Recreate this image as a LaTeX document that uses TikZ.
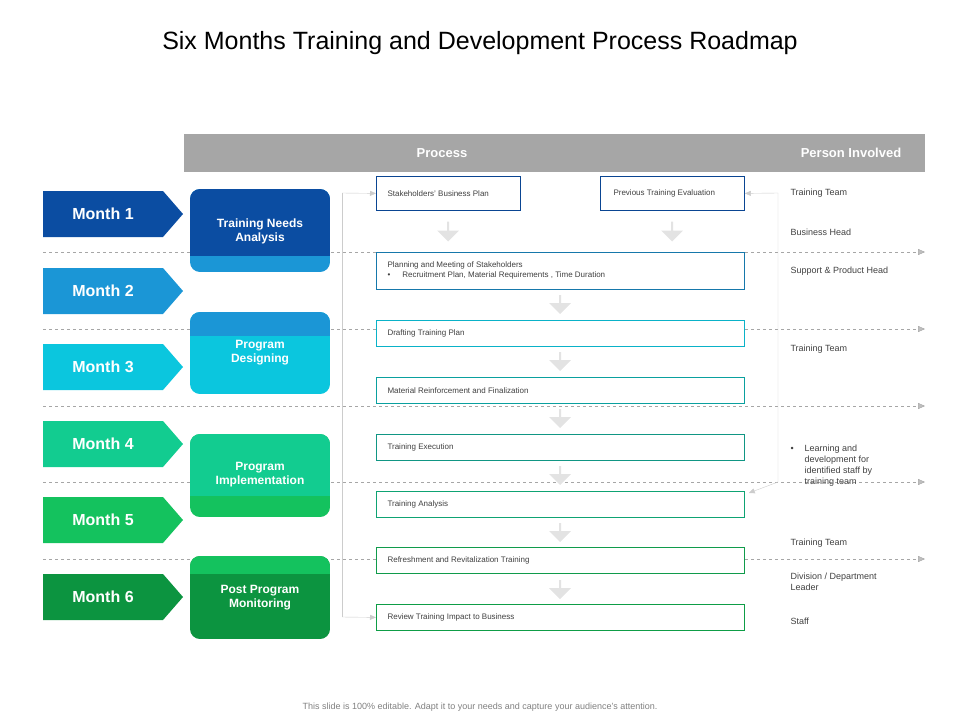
\documentclass[tikz,border=0pt]{standalone}
\usepackage{fontspec}
\setmainfont{Liberation Sans}
\usetikzlibrary{positioning, shapes.arrows, arrows.meta, calc}

\definecolor{mOne}{HTML}{0B4DA2}
\definecolor{mTwo}{HTML}{1B96D6}
\definecolor{mThree}{HTML}{0BC6DE}
\definecolor{mFour}{HTML}{12CC90}
\definecolor{mFive}{HTML}{14C25E}
\definecolor{mSix}{HTML}{0C9440}
\definecolor{hdr}{HTML}{A6A6A6}
\definecolor{txt}{HTML}{404040}

\begin{document}
\begin{tikzpicture}[x=1pt, y=-1pt,
  month/.style={fill=#1, draw=none, text=white, font=\fontsize{16}{18}\selectfont\bfseries},
  phase/.style={font=\fontsize{12}{14}\selectfont\bfseries, text=white, align=center},
  procbox/.style={draw=#1, fill=white, thick, anchor=north west, inner sep=0pt},
  proctext/.style={font=\fontsize{8}{10}\selectfont, text=txt, anchor=west, align=left},
  person/.style={font=\fontsize{9}{11}\selectfont, text=txt, anchor=west, align=left},
  downarr/.style={single arrow, shape border rotate=270, fill=gray!22, draw=none, minimum width=22pt, single arrow head extend=2pt, minimum height=20pt, inner sep=0pt},
  sep/.style={dashed, gray!70, -{Triangle[length=7pt, width=6pt, fill=gray!50]}},
  link/.style={gray!40, -{Triangle[length=6pt, width=5pt]}}
]
\useasboundingbox (0,0) rectangle (960,720);

% Title and footer
\node (title) at (480,43) {\fontsize{25}{30}\selectfont Six Months Training and Development Process Roadmap};
\node[text=gray, font=\fontsize{9}{11}\selectfont] (foot) at (480,707) {This slide is 100\% editable. Adapt it to your needs and capture your audience's attention.};

% Header bar
\fill[hdr] (184,134) rectangle (925,172);
\node[text=white, font=\fontsize{13}{15}\selectfont\bfseries] (hproc) at (442,153) {Process};
\node[text=white, font=\fontsize{13}{15}\selectfont\bfseries] (hpers) at (851,153) {Person Involved};

% Month separators
\foreach \y/\n in {252/a, 329/b, 406/c, 482/d, 559/e} {
  \coordinate (s\n) at (43,\y);
  \coordinate (e\n) at (925,\y);
  \draw[sep] (s\n) -- (e\n);
}

% Month arrows
\foreach \i/\c/\t in {1/mOne/191, 2/mTwo/268, 3/mThree/344, 4/mFour/421, 5/mFive/497, 6/mSix/574} {
  \fill[\c] (43,\t) -- (163,\t) -- (183,\t+23) -- (163,\t+46) -- (43,\t+46) -- cycle;
  \node[month=\c, fill=none] (m\i) at (103,\t+23) {Month \i};
}

% Phase boxes
\begin{scope}
  \clip[rounded corners=10pt] (190,189) rectangle (330,272);
  \fill[mTwo] (190,189) rectangle (330,272);
  \fill[mOne] (190,189) rectangle (330,256);
\end{scope}
\node[phase] (tna) at (260,231) {Training Needs\\Analysis};

\begin{scope}
  \clip[rounded corners=10pt] (190,312) rectangle (330,394);
  \fill[mThree] (190,312) rectangle (330,394);
  \fill[mTwo] (190,312) rectangle (330,336);
\end{scope}
\node[phase] (pdes) at (260,353) {Program\\Designing};

\begin{scope}
  \clip[rounded corners=10pt] (190,434) rectangle (330,517);
  \fill[mFive] (190,434) rectangle (330,517);
  \fill[mFour] (190,434) rectangle (330,496);
\end{scope}
\node[phase] (pimp) at (260,475) {Program\\Implementation};

\begin{scope}
  \clip[rounded corners=10pt] (190,556) rectangle (330,639);
  \fill[mSix] (190,556) rectangle (330,639);
  \fill[mFive] (190,556) rectangle (330,574);
\end{scope}
\node[phase] (pmon) at (260,598) {Post Program\\Monitoring};

% Down arrows
\node[downarr] (d1) at (448,231) {};
\node[downarr] (d2) at (672,231) {};
\foreach \y/\n in {304/3, 361/4, 418/5, 475/6, 532/7, 589/8} {
  \node[downarr, minimum height=19pt] (d\n) at (560,\y) {};
}

% Process boxes
\node[procbox=mOne!90!black, minimum width=144pt, minimum height=34pt] (bp) at (376,176) {};
\node[proctext] at ([xshift=8pt]bp.west) {Stakeholders' Business Plan};
\node[procbox=mOne!90!black, minimum width=144pt, minimum height=34pt] (pte) at (600,176) {};
\node[proctext] at ([xshift=10pt]pte.west) {Previous Training Evaluation};
\node[procbox=mTwo!80!black, minimum width=368pt, minimum height=37pt] (plan) at (376,252) {};
\node[proctext] at ([xshift=8pt]plan.west) {Planning and Meeting of Stakeholders\\\textbullet\hspace{12pt}Recruitment Plan, Material Requirements , Time Duration};
\node[procbox=mThree!90!black, minimum width=368pt, minimum height=26pt] (draft) at (376,320) {};
\node[proctext] at ([xshift=8pt]draft.west) {Drafting Training Plan};
\node[procbox=mThree!70!mFour!80!black, minimum width=368pt, minimum height=26pt] (mat) at (376,377) {};
\node[proctext] at ([xshift=8pt]mat.west) {Material Reinforcement and Finalization};
\node[procbox=mFour!70!mTwo!80!black, minimum width=368pt, minimum height=26pt] (exec) at (376,434) {};
\node[proctext] at ([xshift=8pt]exec.west) {Training Execution};
\node[procbox=mFour!80!black, minimum width=368pt, minimum height=26pt] (anal) at (376,491) {};
\node[proctext] at ([xshift=8pt]anal.west) {Training Analysis};
\node[procbox=mFive!80!black, minimum width=368pt, minimum height=26pt] (refr) at (376,547) {};
\node[proctext] at ([xshift=8pt]refr.west) {Refreshment and Revitalization Training};
\node[procbox=mSix!80!mFive, minimum width=368pt, minimum height=26pt] (rev) at (376,604) {};
\node[proctext] at ([xshift=8pt]rev.west) {Review Training Impact to Business};

% Feedback links
\coordinate (lt) at (342,193);
\coordinate (lb) at (342,617);
\draw[link] (lt) -- (bp.west);
\draw[gray!40] (lt) -- (lb);
\draw[link] (lb) -- (rev.west);
\coordinate (rt) at (778,193);
\coordinate (rb) at (778,482);
\draw[link] (rt) -- (pte.east);
\draw[link] (rt) -- (rb) -- ([xshift=4pt, yshift=-2pt]anal.north east);

% Persons involved
\node[person] (p1) at (787,193) {Training Team};
\node[person] (p2) at (787,232) {Business Head};
\node[person] (p3) at (787,271) {Support \& Product Head};
\node[person] (p4) at (787,349) {Training Team};
\node[person] (p5) at (787,466) {\textbullet\hspace{11pt}\parbox[t]{85pt}{\raggedright\hyphenpenalty=10000 Learning and development for identified staff by training team}};
\node[person] (p6) at (787,543) {Training Team};
\node[person] (p7) at (787,582) {Division / Department\\Leader};
\node[person] (p8) at (787,621) {Staff};
\end{tikzpicture}
\end{document}
